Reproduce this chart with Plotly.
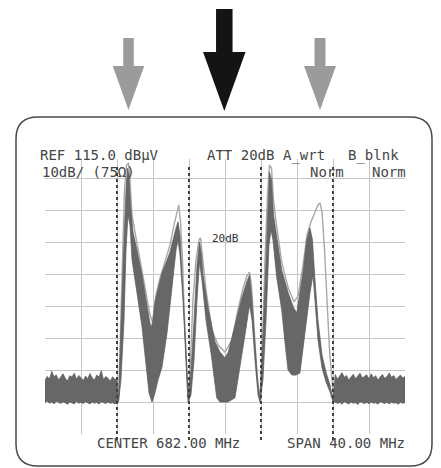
import plotly.graph_objects as go

W, H = 441, 468          # window size
OFF = 8                  # page body margin of the html page
FW, FH = W - OFF, H - OFF  # figure size so it fits in the window

# ---------------- data (MHz, dBuV) ----------------
noise_left_mhz = [662.0, 662.25, 662.5, 662.75, 663.0, 663.25, 663.5, 663.75, 664.0, 664.25, 664.5,
                  664.75, 665.0, 665.25, 665.5, 665.75, 666.0, 666.25, 666.5, 666.75, 667.0, 667.25,
                  667.5, 667.75, 668.0, 668.25, 668.5, 668.75, 669.0, 669.25, 669.5, 669.75, 670.0]
noise_left_top = [51.8, 53.0, 52.2, 54.6, 52.9, 53.5, 51.9, 52.7, 53.8, 52.4, 51.6, 53.2, 52.8, 54.0,
                  52.1, 53.3, 52.6, 51.7, 53.1, 52.3, 53.9, 52.5, 51.9, 53.4, 52.8, 54.8, 52.0, 53.0,
                  52.4, 51.6, 52.9, 52.2, 51.8]
noise_left_bot = [44.8, 45.3, 44.6, 45.0, 44.4, 45.2, 44.9, 44.5, 45.1, 44.7, 44.3, 45.0, 44.8, 44.4,
                  45.2, 44.6, 44.9, 44.5, 45.1, 44.7, 44.4, 45.0, 44.6, 44.9, 44.3, 45.1, 44.7, 44.5,
                  45.0, 44.6, 44.8, 44.4, 44.9]

noise_right_mhz = [694.25, 694.5, 694.75, 695.0, 695.25, 695.5, 695.75, 696.0, 696.25, 696.5, 696.75,
                   697.0, 697.25, 697.5, 697.75, 698.0, 698.25, 698.5, 698.75, 699.0, 699.25, 699.5,
                   699.75, 700.0, 700.25, 700.5, 700.75, 701.0, 701.25, 701.5, 701.75, 702.0]
noise_right_top = [53.6, 52.1, 53.0, 54.2, 52.7, 53.3, 51.9, 52.8, 53.7, 52.3, 53.1, 54.0, 52.5, 52.9,
                   53.5, 52.2, 53.8, 52.6, 53.2, 51.8, 52.9, 53.6, 52.4, 53.0, 54.1, 52.7, 53.3, 52.0,
                   52.8, 53.4, 52.5, 53.0]
noise_right_bot = [45.0, 44.5, 44.9, 44.3, 45.1, 44.7, 44.4, 45.0, 44.6, 44.8, 44.2, 45.1, 44.7, 44.5,
                   44.9, 44.4, 45.0, 44.6, 44.8, 44.3, 45.1, 44.7, 44.5, 44.9, 44.4, 45.0, 44.6, 44.8,
                   44.3, 44.9, 44.6, 44.8]

# channel 1 (670-678 MHz)
ch1_top_mhz = [670.17, 670.33, 670.56, 670.78, 671.0, 671.17, 671.33, 671.5, 671.78, 672.22, 672.78,
               673.22, 673.56, 673.78, 674.0, 674.22, 674.67, 675.0, 675.56, 675.89, 676.22, 676.56,
               676.78, 677.0, 677.33, 677.61, 677.89]
ch1_top_db = [45.6, 58.1, 76.9, 95.6, 111.3, 118.1, 115.9, 106.6, 98.1, 92.5, 84.7,
              76.9, 71.3, 68.1, 70.6, 76.3, 81.6, 85.3, 89.4, 91.9, 95.6, 99.4,
              101.3, 97.2, 81.6, 64.4, 48.1]
ch1_bot_mhz = [670.17, 670.44, 670.78, 671.0, 671.22, 671.44, 671.67, 672.22, 672.78, 673.17, 673.56,
               673.89, 674.22, 674.56, 675.0, 675.56, 675.89, 676.22, 676.56, 676.78, 677.0, 677.33,
               677.61, 677.89]
ch1_bot_db = [45.0, 51.9, 70.6, 92.5, 103.4, 100.3, 89.4, 79.1, 68.4, 58.1, 47.8,
              45.0, 47.8, 51.9, 55.9, 66.6, 75.3, 84.7, 92.5, 95.6, 90.9, 76.9,
              61.3, 45.6]
ch1_peak_mhz = [670.17, 670.39, 670.61, 670.83, 671.06, 671.28, 671.44, 671.67, 672.11, 672.67, 673.22,
                673.67, 673.94, 674.33, 674.78, 675.33, 675.89, 676.33, 676.67, 676.86, 677.06, 677.28,
                677.5, 677.72, 677.89]
ch1_peak_db = [45.6, 67.5, 92.5, 111.3, 119.0, 119.7, 114.4, 103.4, 96.3, 87.8, 79.1,
               72.2, 70.0, 78.4, 83.8, 88.8, 94.1, 100.3, 105.0, 106.6, 101.3, 89.4,
               70.6, 55.0, 46.3]

# channel 2 (678-686 MHz)
ch2_top_mhz = [677.89, 678.22, 678.56, 678.89, 679.17, 679.39, 679.56, 680.11, 680.89, 681.44, 682.0,
               682.37, 683.11, 683.86, 684.41, 684.72, 685.0, 685.33, 685.67, 685.89]
ch2_top_db = [46.3, 55.0, 70.6, 87.8, 95.0, 90.9, 84.7, 74.4, 63.8, 60.6, 58.8,
              60.6, 69.1, 77.5, 82.5, 84.7, 76.9, 62.8, 50.3, 45.6]
ch2_bot_mhz = [677.89, 678.22, 678.56, 678.89, 679.17, 679.44, 679.89, 680.52, 681.08, 681.44, 682.33,
               683.11, 683.67, 684.22, 684.72, 685.0, 685.33, 685.67, 685.89]
ch2_bot_db = [45.0, 47.2, 58.1, 76.9, 88.8, 83.1, 70.6, 58.8, 46.3, 45.0, 45.0,
              46.3, 55.6, 65.9, 75.3, 70.6, 58.1, 47.2, 45.0]
ch2_peak_mhz = [677.89, 678.17, 678.44, 678.78, 679.11, 679.28, 679.5, 679.89, 680.56, 681.22, 682.0,
                682.78, 683.44, 684.0, 684.44, 684.72, 684.94, 685.22, 685.56, 685.89]
ch2_peak_db = [46.3, 58.1, 76.9, 89.4, 95.6, 96.3, 90.9, 80.0, 67.5, 62.8, 60.6,
               64.4, 73.8, 80.6, 84.4, 85.6, 81.6, 67.5, 53.4, 45.6]

# channel 3 (686-694 MHz)
ch3_top_mhz = [685.89, 686.17, 686.44, 686.72, 686.94, 687.17, 687.39, 687.56, 688.3, 689.03, 689.59,
               689.97, 690.14, 690.7, 691.08, 691.44, 691.72, 692.0, 692.33, 692.78, 693.22, 693.67,
               694.0]
ch3_top_db = [45.6, 61.3, 80.0, 101.9, 116.9, 114.4, 103.4, 99.7, 86.3, 79.1, 74.7,
              72.8, 76.9, 86.3, 95.6, 99.4, 95.6, 83.1, 70.6, 59.7, 54.4, 50.3,
              45.6]
ch3_bot_mhz = [685.89, 686.22, 686.56, 686.89, 687.11, 687.33, 687.74, 688.3, 688.67, 689.0, 689.44,
               689.89, 690.33, 690.89, 691.44, 691.78, 692.0, 692.33, 692.78, 693.22, 693.67, 694.0]
ch3_bot_db = [45.0, 51.9, 70.6, 94.1, 98.8, 95.6, 84.1, 73.8, 63.4, 55.0, 53.4,
              53.4, 54.1, 66.6, 79.1, 84.7, 76.9, 64.4, 55.6, 51.3, 48.1, 45.0]
ch3_peak_mhz = [685.89, 686.17, 686.44, 686.72, 686.94, 687.17, 687.39, 687.67, 688.3, 689.03, 689.67,
                690.11, 690.67, 691.11, 691.56, 692.0, 692.33, 692.56, 692.78, 693.06, 693.33, 693.61,
                693.89, 694.06]
ch3_peak_db = [45.6, 64.4, 89.4, 109.7, 119.0, 118.1, 108.1, 101.3, 88.8, 80.6, 76.3,
               78.1, 87.8, 97.2, 101.3, 104.4, 106.6, 107.2, 104.4, 92.5, 76.9, 61.3,
               51.9, 45.6]

channel_edges_mhz = [670, 678, 686, 694]
grid_x_mhz = [666, 670, 674, 678, 682, 686, 690, 694, 698]
grid_y_dbuv = [45, 55, 65, 75, 85, 95, 105, 115]

header_texts = ["REF 115.0 dBμV", "ATT 20dB", "A_wrt", "B_blnk"]
subheader_texts = ["10dB/ (75Ω)", "Norm", "Norm"]
footer_texts = ["CENTER 682.00 MHz", "SPAN 40.00 MHz"]
marker_text = "20dB"

# ---------------- figure ----------------
def P(px, py):
    """window pixel -> figure paper coordinates"""
    return (px - OFF) / FW, 1 - (py - OFF) / FH

bot_f = noise_left_mhz + ch1_bot_mhz + ch2_bot_mhz + ch3_bot_mhz + noise_right_mhz
bot_v = noise_left_bot + ch1_bot_db + ch2_bot_db + ch3_bot_db + noise_right_bot
top_f = noise_left_mhz + ch1_top_mhz + ch2_top_mhz + ch3_top_mhz + noise_right_mhz
top_v = noise_left_top + ch1_top_db + ch2_top_db + ch3_top_db + noise_right_top
peak_f = ch1_peak_mhz + ch2_peak_mhz + ch3_peak_mhz
peak_v = ch1_peak_db + ch2_peak_db + ch3_peak_db

fig = go.Figure()
fig.add_trace(go.Scatter(x=peak_f, y=peak_v, mode="lines",
                         line=dict(color="#a8a8a8", width=1.4), hoverinfo="skip"))
fig.add_trace(go.Scatter(x=bot_f + top_f[::-1], y=bot_v + top_v[::-1], mode="lines",
                         fill="toself", fillcolor="#676767",
                         line=dict(color="#5a5a5a", width=0.7), hoverinfo="skip"))

gx0, gx1 = 45, 405
gy_top_plot, gy_bot = 158.8, 434
dx0, _ = P(gx0, 0)
dx1, _ = P(gx1, 0)
_, dy1 = P(0, gy_top_plot)
_, dy0 = P(0, gy_bot)

fig.update_layout(
    width=FW, height=FH, margin=dict(l=0, r=0, t=0, b=0),
    paper_bgcolor="white", plot_bgcolor="white", showlegend=False,
    xaxis=dict(domain=[dx0, dx1], range=[662, 702], tickvals=grid_x_mhz,
               showticklabels=False, ticks="", showgrid=True, gridcolor="#c6c6c6", gridwidth=1,
               zeroline=False, showline=False, fixedrange=True),
    yaxis=dict(domain=[dy0, dy1], range=[35, 121], tickvals=grid_y_dbuv,
               showticklabels=False, ticks="", showgrid=True, gridcolor="#c6c6c6", gridwidth=1,
               zeroline=False, showline=False, fixedrange=True),
)

shapes = []
# dotted channel boundaries
for f in channel_edges_mhz:
    shapes.append(dict(type="line", xref="x", yref="paper", x0=f, x1=f,
                       y0=P(0, 440)[1], y1=P(0, 167)[1],
                       line=dict(color="#404040", width=2, dash="dot"), layer="above"))

# rounded frame
x0, x1, y0, y1, r = 16, 432, 117, 466, 22
pts = lambda px, py: "%.5f,%.5f" % P(px, py)
path = ("M " + pts(x0 + r, y0) + " L " + pts(x1 - r, y0) +
        " Q " + pts(x1, y0) + " " + pts(x1, y0 + r) +
        " L " + pts(x1, y1 - r) + " Q " + pts(x1, y1) + " " + pts(x1 - r, y1) +
        " L " + pts(x0 + r, y1) + " Q " + pts(x0, y1) + " " + pts(x0, y1 - r) +
        " L " + pts(x0, y0 + r) + " Q " + pts(x0, y0) + " " + pts(x0 + r, y0) + " Z")
shapes.append(dict(type="path", xref="paper", yref="paper", path=path,
                   line=dict(color="#4a4a4a", width=1.5)))

def arrow(cx, shaft_w, top, head_top, head_w, tip, color):
    hs, hh = shaft_w / 2, head_w / 2
    p = ("M " + pts(cx - hs, top) + " L " + pts(cx + hs, top) + " L " + pts(cx + hs, head_top) +
         " L " + pts(cx + hh, head_top) + " L " + pts(cx, tip) + " L " + pts(cx - hh, head_top) +
         " L " + pts(cx - hs, head_top) + " Z")
    return dict(type="path", xref="paper", yref="paper", path=p, fillcolor=color,
                line=dict(color=color, width=0))

shapes.append(arrow(128.5, 10.5, 38, 66, 31.5, 110, "#9b9b9b"))
shapes.append(arrow(224.3, 16.5, 9, 52, 42.5, 111, "#141414"))
shapes.append(arrow(320, 11, 38, 66, 32, 110, "#9b9b9b"))

fig.update_layout(shapes=shapes)

font = dict(family="DejaVu Sans Mono", size=14, color="#454545")
ann = []
def label(text, px, py, f=font, xanchor="left"):
    x, y = P(px, py)
    ann.append(dict(text=text, x=x, y=y, xref="paper", yref="paper", showarrow=False,
                    xanchor=xanchor, yanchor="middle", font=f, borderpad=0))

label(header_texts[0], 39, 155)
label(header_texts[1], 206, 155)
label(header_texts[2], 282, 155)
label(header_texts[3], 347, 155)
label(subheader_texts[0], 41, 172)
label(subheader_texts[1], 309, 172)
label(subheader_texts[2], 371, 172)
label(footer_texts[0], 96, 443)
label(footer_texts[1], 286, 443)
label(marker_text, 225, 238, dict(family="DejaVu Sans Mono", size=11, color="#303030"), "center")
fig.update_layout(annotations=ann)

fig.write_html("out.html")
